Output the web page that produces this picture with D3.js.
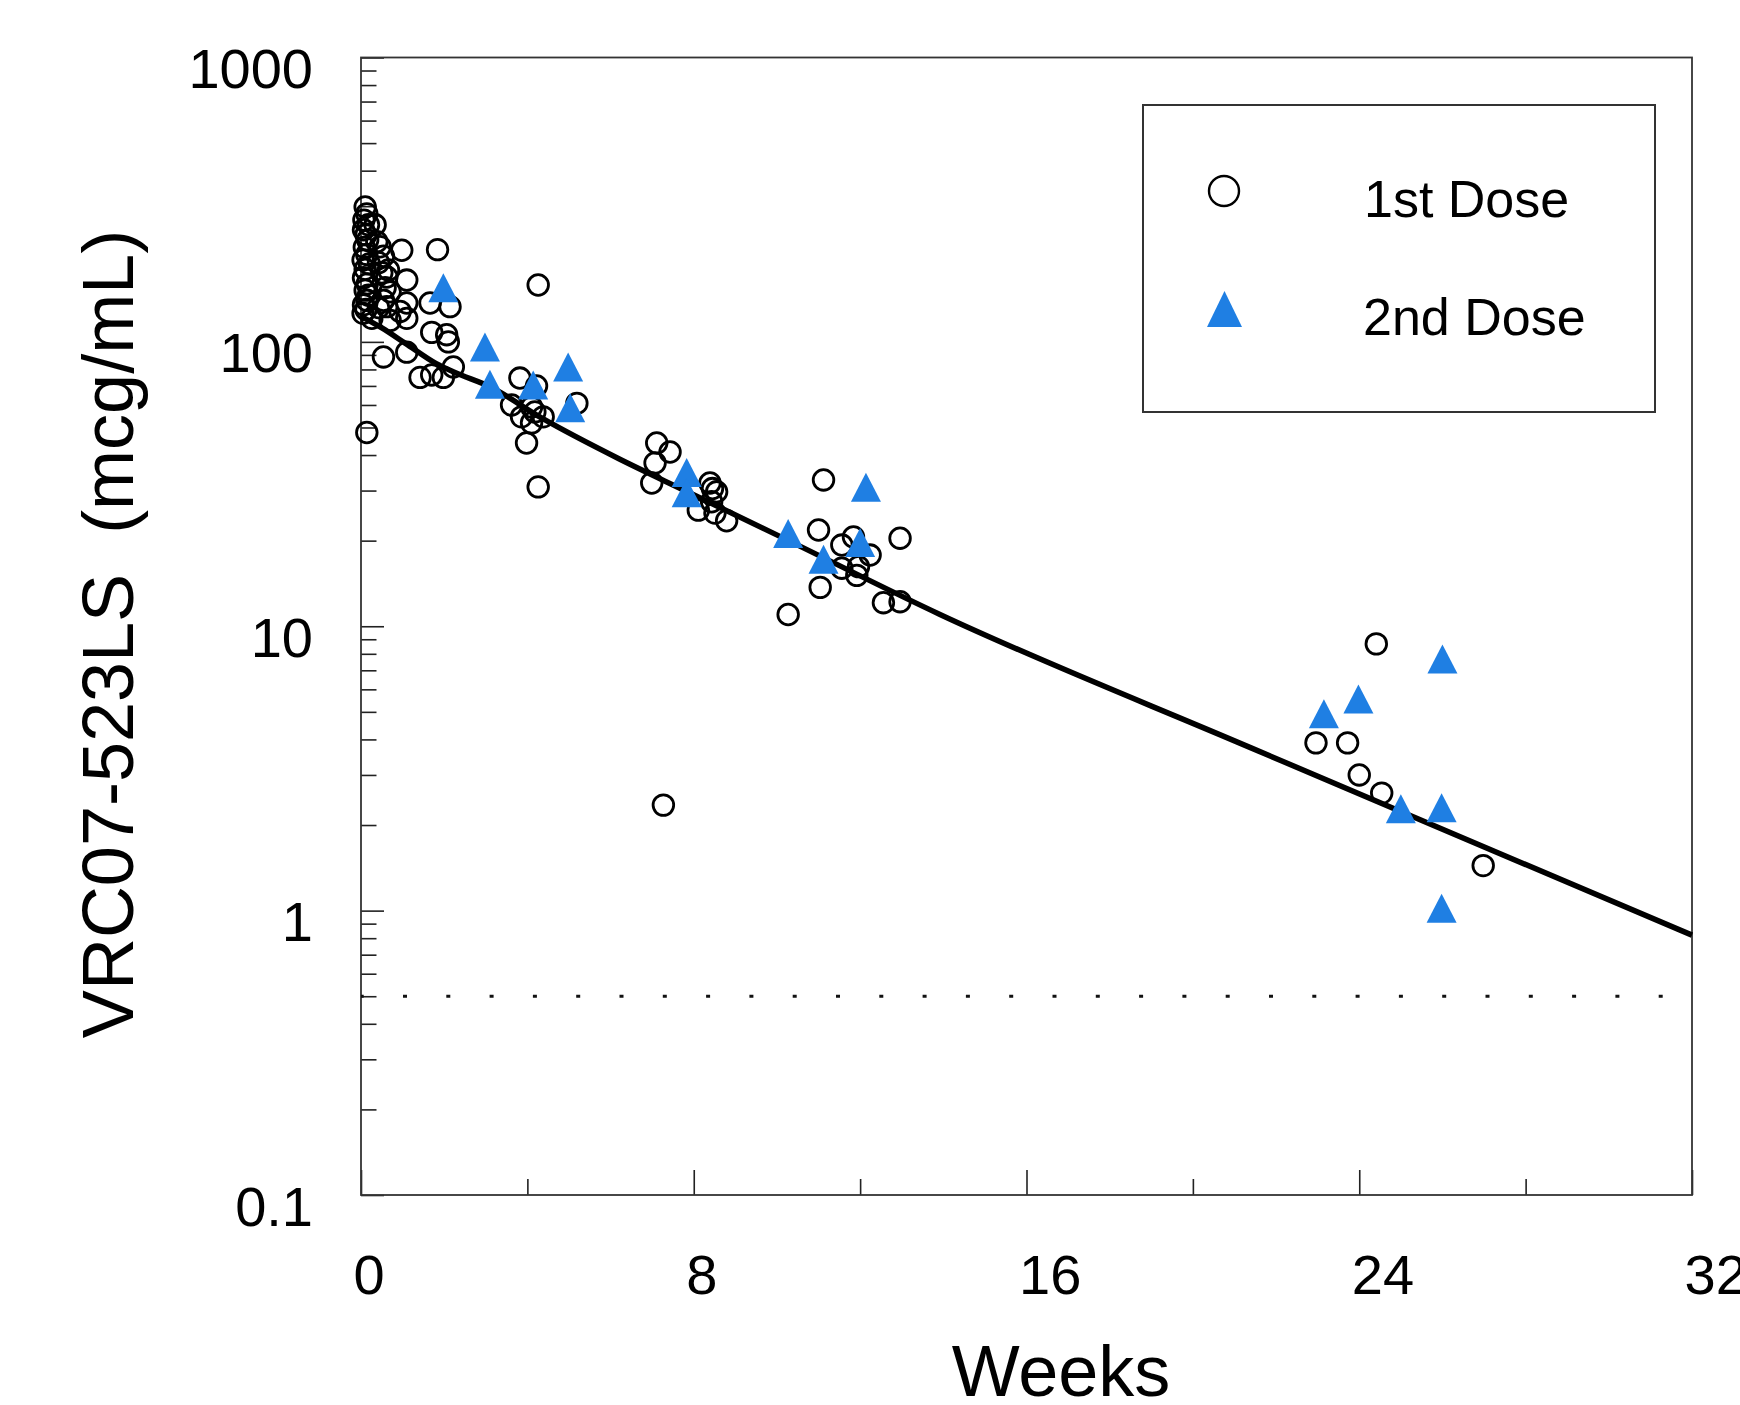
<!DOCTYPE html>
<html>
<head>
<meta charset="utf-8">
<script src="https://cdn.jsdelivr.net/npm/d3@7"></script>
<style>
body { margin: 0; background: #fff; }
svg { display: block; font-family: "Liberation Sans", Arial, sans-serif; }
</style>
</head>
<body>
<svg id="chart" width="1740" height="1405"></svg>
<script>
// axis ticks
var xTicks = [0, 8, 16, 24, 32];
var xMinor = [4, 12, 20, 28];
var yTicks = [0.1, 1, 10, 100, 1000];
var lloq = 0.5;

// 1st dose observations (weeks, mcg/mL)
var dose1Weeks = [0.10,0.14,0.07,0.18,0.06,0.12,0.16,0.08,0.14,0.05,0.20,0.10,0.06,0.15,0.10,0.18,0.14,0.06,0.12,0.05,0.14,
  0.34,0.46,0.38,0.54,0.42,0.66,0.62,0.50,0.58,0.70,0.54,0.42,0.62,0.26,0.70,0.54,
  0.98,1.10,0.94,1.10,1.10,1.10,
  1.42,1.70,1.98,2.22,1.66,2.14,1.70,2.06,2.10,1.84,
  4.26,3.82,4.22,3.62,4.10,3.86,4.18,4.38,4.10,3.98,4.26,5.19,
  7.11,7.43,7.07,6.99,8.39,8.55,8.45,8.43,8.11,8.51,8.79,7.27,
  11.12,11.0,11.56,11.84,12.24,11.96,11.92,11.56,11.04,12.96,10.27,12.56,12.96,
  24.41,22.96,23.72,24.0,24.54,26.98];
var dose1Conc = [298,282,268,258,248,238,228,215,203,194,188,180,168,160,152,146,140,135,130,126,48,
  258,216,225,200,190,179,169,175,155,150,140,132,133,121,119,88.5,
  210,165,128,137,121,92,
  75,76.5,75,81.6,137,133,108,106,100,211,
  158.5,74.6,70,60,59,54.5,56.7,54.5,51.9,44.1,30.9,60.8,
  44.1,41,37.5,31.9,31.9,29.7,30.5,27.4,25.6,25.0,23.5,2.35,
  32.7,21.8,19.3,20.6,17.8,16.2,15.1,16.0,13.7,20.4,11.0,12.1,12.2,
  8.67,3.89,3.89,3.0,2.59,1.44];

// 2nd dose observations
var dose2Weeks = [1.98,2.98,3.10,4.14,4.98,5.03,7.83,7.83,10.27,11.12,12.0,12.14,23.15,23.98,26.0,25.0,25.98,25.98];
var dose2Conc = [155,96,71,70.5,81.6,58.7,34.7,29.5,21.2,17.2,19.7,30.8,4.92,5.55,7.67,2.28,2.30,1.02];

// model fit curve
var fitWeeks = [0, 0.5, 1.06, 1.8, 2.26, 3.1, 4.34, 6.2, 7.87, 10.07, 13.92, 21.37, 32];
var fitConc = [123, 112, 99, 84, 78, 69.5, 54, 38.8, 29.6, 20.7, 11.0, 3.75, 0.82];

var svg = d3.select("#chart");
var margin = {top: 57.5, right: 48, bottom: 210, left: 361};
var width = +svg.attr("width") - margin.left - margin.right;
var height = +svg.attr("height") - margin.top - margin.bottom;

var x = d3.scaleLinear().domain([0, 32]).range([0, width]);
var y = d3.scaleLog().domain([0.1, 1000]).range([height, 0]);

var g = svg.append("g")
    .attr("transform", "translate(" + margin.left + "," + margin.top + ")");

var yMinor = y.ticks().filter(function(d) { return yTicks.indexOf(d) < 0; });

// x axis: major + minor ticks pointing inward
var xAx = g.append("g")
    .attr("class", "x axis")
    .attr("transform", "translate(0," + height + ")")
    .call(d3.axisBottom(x).tickValues(xTicks).tickSizeInner(-25).tickSizeOuter(0));
xAx.selectAll("text")
    .attr("y", 99).attr("dy", null).attr("x", -8)
    .attr("text-anchor", "start")
    .style("font-size", "56px").style("fill", "#000");
g.append("g")
    .attr("transform", "translate(0," + height + ")")
    .call(d3.axisBottom(x).tickValues(xMinor).tickSizeInner(-16).tickSizeOuter(0).tickFormat(""));

// y axis
var yAx = g.append("g")
    .attr("class", "y axis")
    .call(d3.axisLeft(y).tickValues(yTicks).tickSizeInner(-23).tickSizeOuter(0)
      .tickFormat(function(d) { return String(d); }));
yAx.selectAll("text")
    .attr("x", -48).attr("y", 30).attr("dy", null)
    .style("font-size", "56px").style("fill", "#000");
g.append("g")
    .call(d3.axisLeft(y).tickValues(yMinor).tickSizeInner(-15.5).tickSizeOuter(0).tickFormat(""));

g.selectAll(".domain").remove();
g.selectAll(".tick line").style("stroke", "#222").style("stroke-width", 1.6);

// frame
g.append("rect")
    .attr("width", width).attr("height", height)
    .style("fill", "none").style("stroke", "#333").style("stroke-width", 1.8);

// LLOQ dotted line
g.append("line")
    .attr("x1", x(0)).attr("x2", x(32))
    .attr("y1", y(lloq)).attr("y2", y(lloq))
    .style("stroke", "#111").style("stroke-width", 3)
    .style("stroke-dasharray", "4 39.3").style("stroke-dashoffset", -42);

// fit curve
var fit = fitWeeks.map(function(w, i) { return [w, fitConc[i]]; });
g.append("path")
    .datum(fit)
    .attr("d", d3.line()
      .x(function(d) { return x(d[0]); })
      .y(function(d) { return y(d[1]); })
      .curve(d3.curveMonotoneX))
    .style("fill", "none").style("stroke", "#000").style("stroke-width", 5.5);

// 1st dose circles
var dose1 = dose1Weeks.map(function(w, i) { return {w: w, c: dose1Conc[i]}; });
g.selectAll(".d1")
    .data(dose1)
  .enter().append("circle")
    .attr("class", "d1")
    .attr("cx", function(d) { return x(d.w); })
    .attr("cy", function(d) { return y(d.c); })
    .attr("r", 10.3)
    .style("fill", "none").style("stroke", "#000").style("stroke-width", 2.8);

// 2nd dose triangles
function tri(cx, cy, w, h) {
  return "M" + cx + "," + (cy - h / 2) + "L" + (cx + w / 2) + "," + (cy + h / 2) +
    "L" + (cx - w / 2) + "," + (cy + h / 2) + "Z";
}
var dose2 = dose2Weeks.map(function(w, i) { return {w: w, c: dose2Conc[i]}; });
g.selectAll(".d2")
    .data(dose2)
  .enter().append("path")
    .attr("class", "d2")
    .attr("d", function(d) { return tri(x(d.w), y(d.c), 30, 29); })
    .style("fill", "#1f7fe3");

// axis titles
svg.append("text")
    .attr("x", 1061).attr("y", 1396)
    .attr("text-anchor", "middle")
    .style("font-size", "72px")
    .text("Weeks");
svg.append("text")
    .attr("transform", "translate(133,634) rotate(-90)")
    .attr("text-anchor", "middle")
    .style("font-size", "72px")
    .style("white-space", "pre")
    .text("VRC07-523LS  (mcg/mL)");

// legend
var leg = svg.append("g");
leg.append("rect")
    .attr("x", 1143).attr("y", 105).attr("width", 512).attr("height", 307)
    .style("fill", "#fff").style("stroke", "#333").style("stroke-width", 2);
leg.append("circle")
    .attr("cx", 1224).attr("cy", 191).attr("r", 15)
    .style("fill", "none").style("stroke", "#000").style("stroke-width", 2.4);
leg.append("path")
    .attr("d", tri(1224.5, 309, 35, 36))
    .style("fill", "#1f7fe3");
leg.append("text").attr("x", 1364).attr("y", 217).style("font-size", "52px").text("1st Dose");
leg.append("text").attr("x", 1363).attr("y", 335).style("font-size", "52px").text("2nd Dose");
</script>
</body>
</html>
